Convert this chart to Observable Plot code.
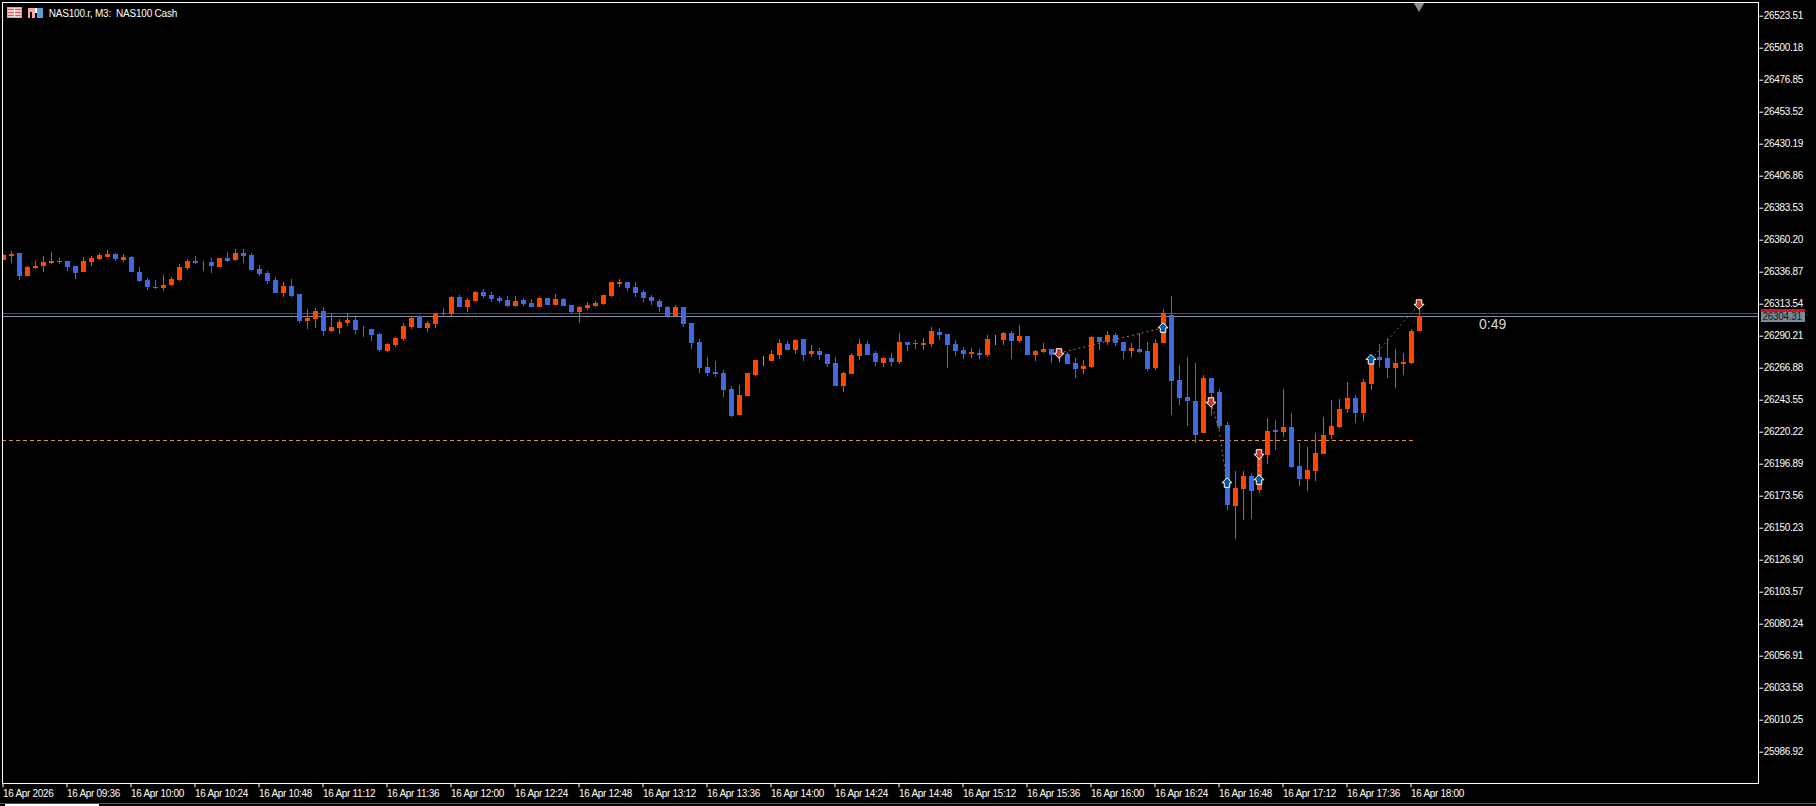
<!DOCTYPE html>
<html>
<head>
<meta charset="utf-8">
<script src="https://cdn.jsdelivr.net/npm/d3@7"></script>
<script src="https://cdn.jsdelivr.net/npm/@observablehq/plot@0.6"></script>
<style>
html,body{margin:0;padding:0;background:#000;overflow:hidden}
#chart{position:absolute;left:0;top:0;width:1816px;height:806px}
#chart svg{display:block}
#chart line,#chart rect{shape-rendering:crispEdges}
#chart text{white-space:pre}
.timer text{letter-spacing:0}
.title text{letter-spacing:-0.22px}
#icons{position:absolute;left:7px;top:6px}
#tab{position:absolute;left:5px;top:804px;width:94px;height:2px;background:#fff}
#tabline{position:absolute;left:0;top:803px;width:1816px;height:1px;background:#555}
</style>
</head>
<body>
<div id="chart"></div>
<div id="tabline"></div>
<div id="tab"></div>
<svg id="icons" width="38" height="14" viewBox="0 0 38 14">
  <rect x="0.5" y="1.5" width="14" height="10" fill="#fdf2f2" stroke="#8cc0ea"/>
  <path d="M1 3.5h13M1 6.5h13M1 9.5h13" stroke="#e8505a" stroke-width="1.6"/>
  <path d="M7.5 2v9" stroke="#fff" stroke-width="1"/>
  <path d="M21 2h7v10h-3V6h-2v6h-2z" fill="#f2a8a8"/>
  <path d="M30 2h6v10h-6z" fill="#5a9fd8"/>
  <path d="M28 2h2v5h-2z" fill="#fff"/>
</svg>
<script>
const opens = [26345.4,26348.3,26350.5,26333.8,26339.6,26341.1,26343.0,26344.9,26344.7,26341.1,26336.7,26344.0,26346.2,26347.6,26350.0,26345.4,26347.6,26336.7,26330.8,26325.7,26325.0,26327.2,26330.8,26339.6,26344.7,26344.0,26344.0,26340.3,26346.9,26345.4,26350.5,26349.1,26338.9,26336.0,26330.8,26321.4,26326.5,26320.6,26301.0,26302.4,26308.3,26293.7,26295.9,26299.5,26301.7,26295.4,26295.1,26291.5,26279.1,26283.5,26287.8,26296.6,26304.6,26295.9,26298.8,26306.5,26306.1,26318.4,26311.1,26315.5,26322.1,26319.9,26317.7,26316.2,26311.9,26316.2,26314.1,26311.1,26317.7,26312.6,26317.0,26312.6,26307.5,26310.4,26311.9,26313.3,26319.2,26327.9,26329.4,26325.7,26322.1,26318.4,26315.5,26311.1,26304.6,26311.1,26299.5,26285.6,26267.4,26263.8,26263.0,26251.4,26232.4,26246.3,26261.6,26272.0,26271.8,26276.1,26284.2,26279.8,26287.8,26276.9,26279.1,26276.9,26270.3,26253.5,26262.3,26275.4,26284.2,26277.6,26270.3,26274.0,26271.0,26285.6,26284.6,26283.4,26284.1,26292.9,26291.4,26284.1,26279.8,26276.8,26277.6,26276.1,26287.0,26287.0,26292.2,26286.3,26290.0,26276.1,26278.3,26280.5,26276.8,26276.8,26270.3,26265.9,26267.4,26289.2,26285.6,26290.7,26285.6,26279.0,26280.5,26279.0,26266.6,26284.9,26305.3,26257.9,26245.5,26242.6,26219.3,26259.3,26249.1,26225.1,26166.0,26178.4,26187.9,26177.7,26203.2,26221.4,26220.0,26223.6,26195.2,26185.7,26191.6,26203.9,26217.8,26223.6,26236.7,26244.8,26233.8,26255.0,26274.7,26273.9,26266.6,26269.6,26270.3,26293.6];
const highs = [26350.0,26352.2,26350.5,26341.1,26344.5,26348.3,26351.3,26346.9,26344.7,26341.1,26347.6,26348.3,26350.3,26352.7,26350.5,26349.8,26348.3,26340.3,26332.3,26330.8,26334.5,26333.0,26342.5,26346.2,26348.3,26344.5,26346.9,26346.9,26351.3,26353.4,26353.4,26350.5,26341.8,26337.4,26333.0,26329.4,26331.6,26320.6,26309.7,26310.4,26311.2,26306.8,26302.4,26306.8,26303.9,26297.3,26295.1,26292.2,26284.9,26289.3,26299.5,26304.6,26305.3,26301.0,26306.8,26310.4,26319.2,26319.9,26317.7,26322.8,26324.3,26322.1,26319.2,26319.2,26319.2,26317.7,26317.0,26318.4,26317.7,26320.6,26317.7,26312.6,26311.9,26314.8,26315.5,26319.9,26329.4,26331.5,26329.4,26329.4,26323.5,26319.9,26317.0,26311.9,26312.6,26311.1,26299.5,26287.8,26274.7,26271.8,26265.2,26253.5,26254.3,26263.0,26272.5,26275.4,26279.8,26287.8,26286.4,26287.8,26287.8,26283.4,26281.2,26276.9,26274.7,26263.8,26277.6,26287.8,26286.4,26279.1,26274.7,26277.6,26292.2,26285.6,26287.0,26288.5,26296.5,26295.8,26291.4,26287.0,26281.9,26281.2,26280.5,26290.7,26290.7,26292.9,26293.6,26298.0,26290.0,26279.8,26284.9,26280.5,26279.8,26278.3,26273.9,26272.5,26290.0,26289.2,26293.6,26292.2,26285.6,26284.9,26292.2,26285.6,26287.8,26309.7,26319.1,26268.8,26274.7,26270.3,26261.5,26259.3,26251.3,26227.3,26191.5,26191.5,26190.1,26203.9,26230.2,26228.7,26251.3,26233.8,26212.0,26209.0,26219.3,26230.9,26243.3,26244.0,26256.4,26247.0,26258.6,26273.2,26284.1,26288.5,26280.5,26277.6,26295.1,26312.6];
const lows = [26345.4,26343.5,26330.8,26333.8,26338.6,26336.7,26342.5,26342.5,26337.4,26331.6,26336.7,26341.1,26345.4,26347.6,26344.7,26344.0,26336.7,26329.4,26323.6,26324.3,26322.8,26326.5,26330.1,26338.1,26342.5,26337.4,26336.0,26340.3,26344.2,26344.7,26343.2,26337.4,26333.8,26327.9,26321.4,26318.5,26318.5,26299.5,26295.1,26295.9,26290.0,26292.9,26291.5,26297.3,26291.5,26289.3,26286.4,26278.4,26278.4,26282.0,26286.4,26295.1,26295.9,26292.9,26295.9,26304.6,26304.6,26311.1,26307.5,26314.8,26317.7,26314.8,26314.1,26311.1,26311.1,26311.9,26311.1,26311.1,26312.6,26312.6,26311.9,26306.8,26299.5,26308.9,26311.1,26312.6,26318.4,26325.7,26322.8,26318.4,26314.8,26312.6,26307.5,26303.1,26303.9,26296.6,26280.5,26263.0,26260.8,26260.1,26245.5,26230.9,26232.4,26246.3,26260.8,26268.1,26271.8,26273.2,26279.8,26276.9,26271.8,26274.7,26272.5,26267.4,26253.5,26249.2,26262.3,26272.5,26276.1,26268.1,26267.4,26268.1,26269.6,26279.0,26280.5,26279.8,26281.9,26287.0,26266.6,26275.4,26273.2,26274.0,26273.2,26274.7,26283.4,26283.4,26273.2,26284.9,26276.1,26271.7,26277.6,26270.3,26271.0,26269.6,26259.4,26262.3,26266.6,26279.8,26283.4,26282.7,26273.2,26274.7,26277.6,26264.5,26265.2,26284.9,26232.6,26239.7,26224.4,26212.0,26219.3,26231.6,26222.2,26163.1,26142.0,26155.8,26156.6,26175.5,26196.7,26206.9,26216.3,26193.7,26180.6,26177.0,26184.3,26203.9,26214.9,26222.9,26233.8,26226.5,26228.0,26250.6,26267.4,26259.3,26252.1,26261.5,26269.6,26293.6];
const closes = [26348.8,26349.8,26333.8,26340.1,26341.3,26344.0,26344.7,26344.2,26340.1,26336.0,26344.7,26346.9,26349.3,26350.0,26346.2,26347.6,26336.7,26330.1,26325.7,26325.0,26327.2,26331.6,26340.3,26344.7,26343.2,26344.2,26341.1,26346.9,26344.7,26350.5,26348.3,26338.1,26335.2,26330.1,26321.4,26326.5,26319.2,26301.0,26303.1,26308.3,26293.7,26296.6,26300.2,26301.7,26294.4,26294.9,26290.8,26279.8,26284.2,26288.6,26297.3,26303.1,26295.9,26299.5,26306.1,26306.1,26318.5,26311.1,26316.2,26322.1,26319.2,26317.0,26315.5,26311.9,26315.5,26313.3,26311.1,26317.7,26312.6,26317.0,26311.9,26307.5,26311.1,26312.6,26314.1,26319.9,26329.4,26329.4,26325.0,26321.3,26317.7,26315.5,26311.1,26304.6,26311.1,26298.7,26284.9,26266.7,26263.0,26262.3,26250.6,26231.7,26247.0,26263.0,26272.5,26272.0,26276.9,26284.9,26279.8,26287.1,26276.1,26279.1,26276.1,26269.6,26253.5,26263.0,26276.1,26284.2,26276.1,26271.0,26274.0,26271.0,26285.6,26283.4,26283.9,26285.1,26293.6,26290.7,26283.4,26279.0,26276.8,26278.3,26276.1,26287.8,26287.0,26292.2,26286.3,26290.0,26276.1,26279.0,26280.5,26276.1,26276.6,26269.6,26265.9,26268.1,26289.2,26285.6,26290.7,26284.9,26279.0,26281.2,26278.3,26265.9,26284.9,26306.7,26257.2,26244.8,26242.6,26217.8,26259.3,26248.4,26224.4,26166.8,26179.2,26187.9,26177.0,26203.2,26220.7,26220.0,26223.6,26194.5,26185.7,26192.3,26204.7,26217.8,26224.4,26236.7,26244.8,26233.8,26256.4,26270.3,26272.5,26266.6,26270.3,26271.0,26293.6,26304.31];
const neutralBars = [95,124,132];

const priceTicks = [26523.51,26500.18,26476.85,26453.52,26430.19,26406.86,26383.53,26360.20,26336.87,26313.54,26290.21,26266.88,26243.55,26220.22,26196.89,26173.56,26150.23,26126.90,26103.57,26080.24,26056.91,26033.58,26010.25,25986.92];
const timeLabels = ["16 Apr 2026","16 Apr 09:36","16 Apr 10:00","16 Apr 10:24","16 Apr 10:48","16 Apr 11:12","16 Apr 11:36","16 Apr 12:00","16 Apr 12:24","16 Apr 12:48","16 Apr 13:12","16 Apr 13:36","16 Apr 14:00","16 Apr 14:24","16 Apr 14:48","16 Apr 15:12","16 Apr 15:36","16 Apr 16:00","16 Apr 16:24","16 Apr 16:48","16 Apr 17:12","16 Apr 17:36","16 Apr 18:00"];
const timeLabelBars = timeLabels.map((_, k) => k * 8);

const bidPrice = 26304.31, askPrice = 26306.4, pendingPrice = 26213.9;
const sells = [[132,26277.8],[151,26242.1],[157,26204.2],[177,26313.5]];
const buys = [[145,26296.3],[153,26183.3],[157,26185.5],[171,26273.2]];
const tradeLinks = [
  {i1:132,p1:26277.8,i2:145,p2:26296.3,c:"#c9683f"},
  {i1:151,p1:26242.1,i2:152,p2:26222,c:"#c9683f"},
  {i1:152,p1:26222,i2:153,p2:26183.3,c:"#c9683f"},
  {i1:157,p1:26204.2,i2:157,p2:26185.5,c:"#d0a0a0"},
  {i1:171,p1:26273.2,i2:177,p2:26313.5,c:"#506f9f"}
];

const bars = d3.range(opens.length).map(i => ({
  i, o: opens[i], h: highs[i], l: lows[i], c: closes[i],
  color: neutralBars.includes(i) ? "#32e632" : closes[i] >= opens[i] ? "#ff4500" : "#4169e1"
}));

const upArrow = {draw(ctx, size){const r=Math.sqrt(size/Math.PI);
  ctx.moveTo(0,-r);ctx.lineTo(r,0);ctx.lineTo(.55*r,0);ctx.lineTo(.55*r,.9*r);ctx.lineTo(-.55*r,.9*r);ctx.lineTo(-.55*r,0);ctx.lineTo(-r,0);ctx.closePath();}};
const downArrow = {draw(ctx, size){const r=Math.sqrt(size/Math.PI);
  ctx.moveTo(0,r);ctx.lineTo(r,0);ctx.lineTo(.55*r,0);ctx.lineTo(.55*r,-.9*r);ctx.lineTo(-.55*r,-.9*r);ctx.lineTo(-.55*r,0);ctx.lineTo(-r,0);ctx.closePath();}};

const font = "'Liberation Sans', sans-serif";
const unit = 23.33/32;
const yAt = py => priceTicks[0] - (py - 15.7) * unit;

const plot = Plot.plot({
  width: 1816, height: 806,
  marginLeft: 2.3, marginRight: 57.7, marginTop: 2.3, marginBottom: 22.7,
  style: {background: "#000", color: "#fff", fontFamily: font, fontSize: "10px", letterSpacing: "-0.32px"},
  x: {type: "linear", domain: [-0.025, 219.475], axis: null},
  y: {type: "linear", domain: [yAt(783.3), yAt(2.3)], axis: null},
  marks: [
    Plot.ruleY([askPrice], {stroke: "#c8201f", strokeWidth: 1}),
    Plot.ruleY([bidPrice], {stroke: "#7f8fa6", strokeWidth: 1}),
    Plot.ruleY([pendingPrice], {x1: -0.025, x2: 176.6, stroke: "#e0923a", strokeWidth: 1, strokeDasharray: "4,3"}),
    Plot.ruleX(bars, {x: "i", y1: "l", y2: "h", stroke: "color", strokeWidth: 1, clip: true}),
    Plot.ruleX(bars, {x: "i", y1: "o", y2: "c", stroke: "color", strokeWidth: 5, clip: true}),
    Plot.link(tradeLinks, {x1: "i1", y1: "p1", x2: "i2", y2: "p2", stroke: "c", strokeWidth: 1, strokeDasharray: "2,3"}),
    Plot.dot(buys, {x: d => d[0], y: d => d[1], symbol: upArrow, r: 5, fill: "#04599c", stroke: "#fff", strokeWidth: 1}),
    Plot.dot(sells, {x: d => d[0], y: d => d[1], symbol: downArrow, r: 5, fill: "#cc3a20", stroke: "#fff", strokeWidth: 1}),
    Plot.dot([177], {x: d => d, frameAnchor: "top", dy: 3, symbol: "triangle", rotate: 180, r: 4, fill: "#8a8a8a"}),
    Plot.frame({stroke: "#fff", strokeWidth: 1}),
    Plot.axisY({anchor: "right", ticks: priceTicks, tickFormat: d => d.toFixed(2), tickSize: 4, tickPadding: 1, stroke: "#fff", fill: "#fff", label: null}),
    Plot.axisX({anchor: "bottom", ticks: timeLabelBars, tickFormat: d => timeLabels[d / 8], textAnchor: "start", tickSize: 4, tickPadding: 2, stroke: "#fff", fill: "#fff", label: null}),
    // price tags on the axis: the ask tag sits under the bid tag
    Plot.ruleY([askPrice], {x1: 219.78, x2: 225.3, stroke: "#e0101f", strokeWidth: 10}),
    Plot.ruleY([bidPrice], {x1: 219.78, x2: 225.3, stroke: "#7c8a98", strokeWidth: 10}),
    Plot.text([bidPrice], {x: () => 219.95, y: d => d, text: d => d.toFixed(2), textAnchor: "start", fill: "#0e1820", fontSize: 10}),
    Plot.text(["NAS100.r, M3:  NAS100 Cash"], {frameAnchor: "top-left", dx: 46, dy: 7, textAnchor: "start", fill: "#fff", fontSize: 10, text: d => d, className: "title"}),
    Plot.text(["0:49"], {x: () => 184.5, y: () => bidPrice, dy: 8, textAnchor: "start", fill: "#d8d8d8", fontSize: 14, text: d => d, className: "timer"})
  ]
});
document.getElementById("chart").append(plot);
</script>
</body>
</html>
